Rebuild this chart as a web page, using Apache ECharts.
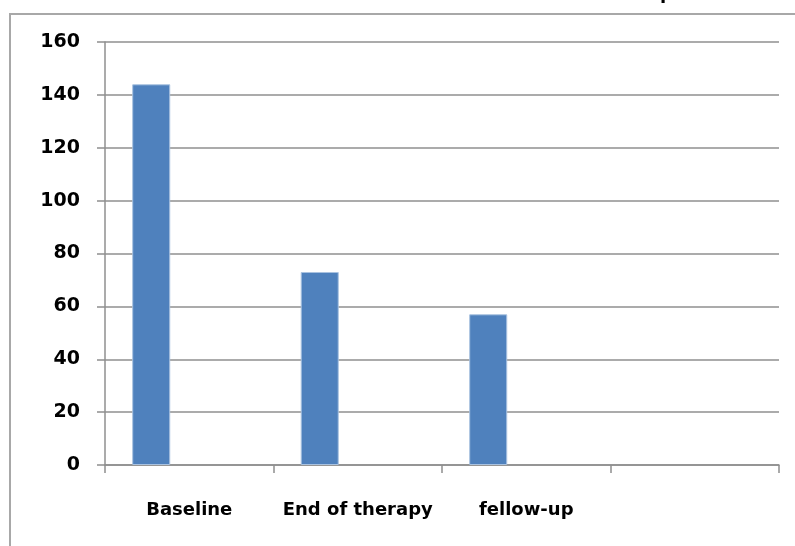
<!DOCTYPE html>
<html>
<head>
<meta charset="utf-8">
<script src="https://cdn.jsdelivr.net/npm/echarts@6/dist/echarts.min.js"></script>
<style>
  html, body { margin: 0; padding: 0; background: #fff; }
  #chart { width: 795px; height: 546px; }
</style>
</head>
<body>
<div id="chart"></div>
<script>
// Measurements per visit
const categories = ['Baseline', 'End of therapy', 'fellow-up', ''];
const seriesA = [144, 73, 57, '-'];
const seriesB = ['-', '-', '-', '-'];
const seriesC = ['-', '-', '-', '-'];
const yTicks = { min: 0, max: 160, interval: 20 };

const labelFont = { fontFamily: 'DejaVu Sans', fontWeight: 'bold', color: '#000' };
const lineGray = '#8f8f8f';

const chart = echarts.init(document.getElementById('chart'), null, { renderer: 'canvas' });

const barStyle = { color: '#4f81bd', borderColor: '#a9c2e0', borderWidth: 1 };

chart.setOption({
  animation: false,
  backgroundColor: '#fff',
  graphic: [
    {
      type: 'rect',
      shape: { x: 10, y: 14, width: 900, height: 600 },
      style: { fill: 'none', stroke: '#a8a8a8', lineWidth: 2 },
      silent: true
    },
    {
      type: 'text',
      left: 660,
      top: -15,
      style: { text: 'p', font: 'bold 18px "DejaVu Sans"', fill: '#000' },
      silent: true
    }
  ],
  grid: { left: 105, right: 16, top: 42, bottom: 81 },
  xAxis: {
    type: 'category',
    data: categories,
    axisLine: { show: true, lineStyle: { color: lineGray, width: 1.5 } },
    axisTick: { show: true, length: 8, lineStyle: { color: lineGray, width: 1.5 } },
    axisLabel: Object.assign({ fontSize: 18, margin: 36, interval: 0 }, labelFont),
    splitLine: { show: false }
  },
  yAxis: {
    type: 'value',
    min: yTicks.min,
    max: yTicks.max,
    interval: yTicks.interval,
    axisLine: { show: true, lineStyle: { color: lineGray, width: 1.5 } },
    axisTick: { show: true, length: 8, lineStyle: { color: lineGray, width: 1.5 } },
    axisLabel: Object.assign({ fontSize: 19, margin: 25 }, labelFont),
    splitLine: { show: true, lineStyle: { color: lineGray, width: 1.5 } }
  },
  series: [
    { type: 'bar', data: seriesA, barGap: '0%', barCategoryGap: '32.3%', itemStyle: barStyle },
    { type: 'bar', data: seriesB, barGap: '0%', barCategoryGap: '32.3%', itemStyle: barStyle },
    { type: 'bar', data: seriesC, barGap: '0%', barCategoryGap: '32.3%', itemStyle: barStyle }
  ]
});
</script>
</body>
</html>
